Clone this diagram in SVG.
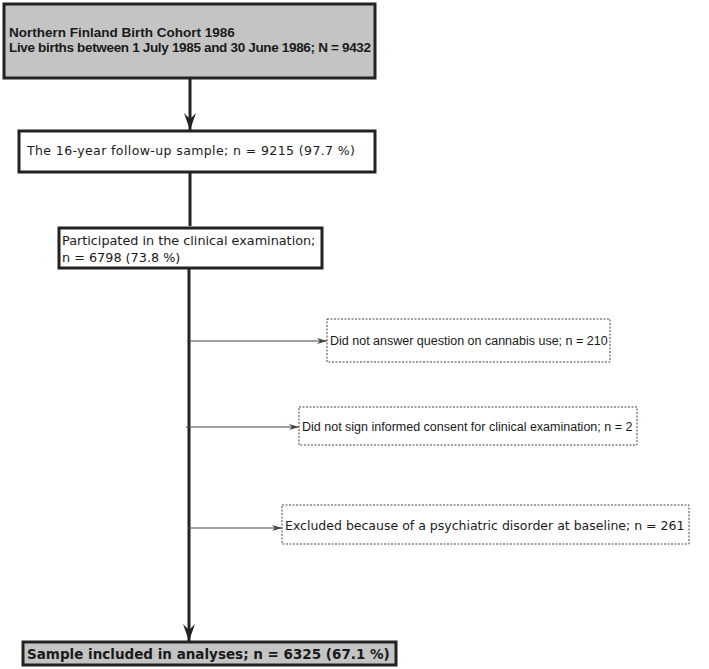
<svg xmlns="http://www.w3.org/2000/svg" width="709" height="669" viewBox="0 0 709 669">
<style>
.main{stroke:#222;stroke-width:3;fill:#fff}
.gray{fill:#c4c4c4}
.dash{fill:#fff;stroke:#444;stroke-width:1;stroke-dasharray:2,1.5}
.arial{font-family:"Liberation Sans",Arial,sans-serif;fill:#1a1a1a}
.dv{font-family:"DejaVu Sans",Verdana,sans-serif;fill:#1a1a1a}
</style>
<defs>
<marker id="big" markerWidth="18" markerHeight="12" refX="17" refY="6" orient="auto" markerUnits="userSpaceOnUse"><path d="M0,0 L17,6 L0,12 L6,6 Z" fill="#222"/></marker>
<marker id="sm" markerWidth="10" markerHeight="6" refX="10" refY="3" orient="auto" markerUnits="userSpaceOnUse"><path d="M0,0 L10,3 L0,6 L3,3 Z" fill="#444"/></marker>
</defs>
<g id="connectors" fill="none">
<line x1="190" y1="78" x2="190" y2="130" stroke="#222" stroke-width="3" marker-end="url(#big)"/>
<line x1="190" y1="172" x2="190" y2="226" stroke="#222" stroke-width="3"/>
<line x1="189" y1="268" x2="189" y2="641" stroke="#222" stroke-width="3" marker-end="url(#big)"/>
<line x1="187" y1="341" x2="327" y2="341" stroke="#444" stroke-width="1.2" marker-end="url(#sm)"/>
<line x1="186" y1="427" x2="299" y2="427" stroke="#444" stroke-width="1.2" marker-end="url(#sm)"/>
<line x1="188" y1="528" x2="282" y2="528" stroke="#444" stroke-width="1.2" marker-end="url(#sm)"/>
</g>
<g id="n1"><rect class="main gray" x="4" y="4" width="371" height="74"/>
<text class="arial" font-weight="bold" font-size="13.5" x="9" y="37">Northern Finland Birth Cohort 1986</text>
<text class="arial" font-weight="bold" font-size="13.5" x="9" y="52" textLength="362">Live births between 1 July 1985 and 30 June 1986; N = 9432</text></g>
<g id="n2"><rect class="main" x="19" y="131" width="356" height="41"/>
<text class="dv" font-size="12.5" x="27" y="155" textLength="328">The 16-year follow-up sample; n = 9215 (97.7 %)</text></g>
<g id="n3"><rect class="main" x="59" y="228" width="263" height="40"/>
<text class="dv" font-size="12.8" x="62" y="245">Participated in the clinical examination;</text>
<text class="dv" font-size="12.8" x="62" y="262">n = 6798 (73.8 %)</text></g>
<g id="n4"><rect class="dash" x="327" y="319" width="283" height="43"/>
<text class="arial" font-size="12.5" x="330" y="345">Did not answer question on cannabis use; n = 210</text></g>
<g id="n5"><rect class="dash" x="299" y="407" width="338" height="38"/>
<text class="arial" font-size="12.5" x="302" y="431">Did not sign informed consent for clinical examination; n = 2</text></g>
<g id="n6"><rect class="dash" x="282" y="505" width="407" height="39"/>
<text class="dv" font-size="12.5" x="285" y="530">Excluded because of a psychiatric disorder at baseline; n = 261</text></g>
<g id="n7"><rect class="main gray" x="23" y="642" width="373" height="23"/>
<text class="dv" font-weight="bold" font-size="13.5" x="27" y="659">Sample included in analyses; n = 6325 (67.1 %)</text></g>
</svg>
